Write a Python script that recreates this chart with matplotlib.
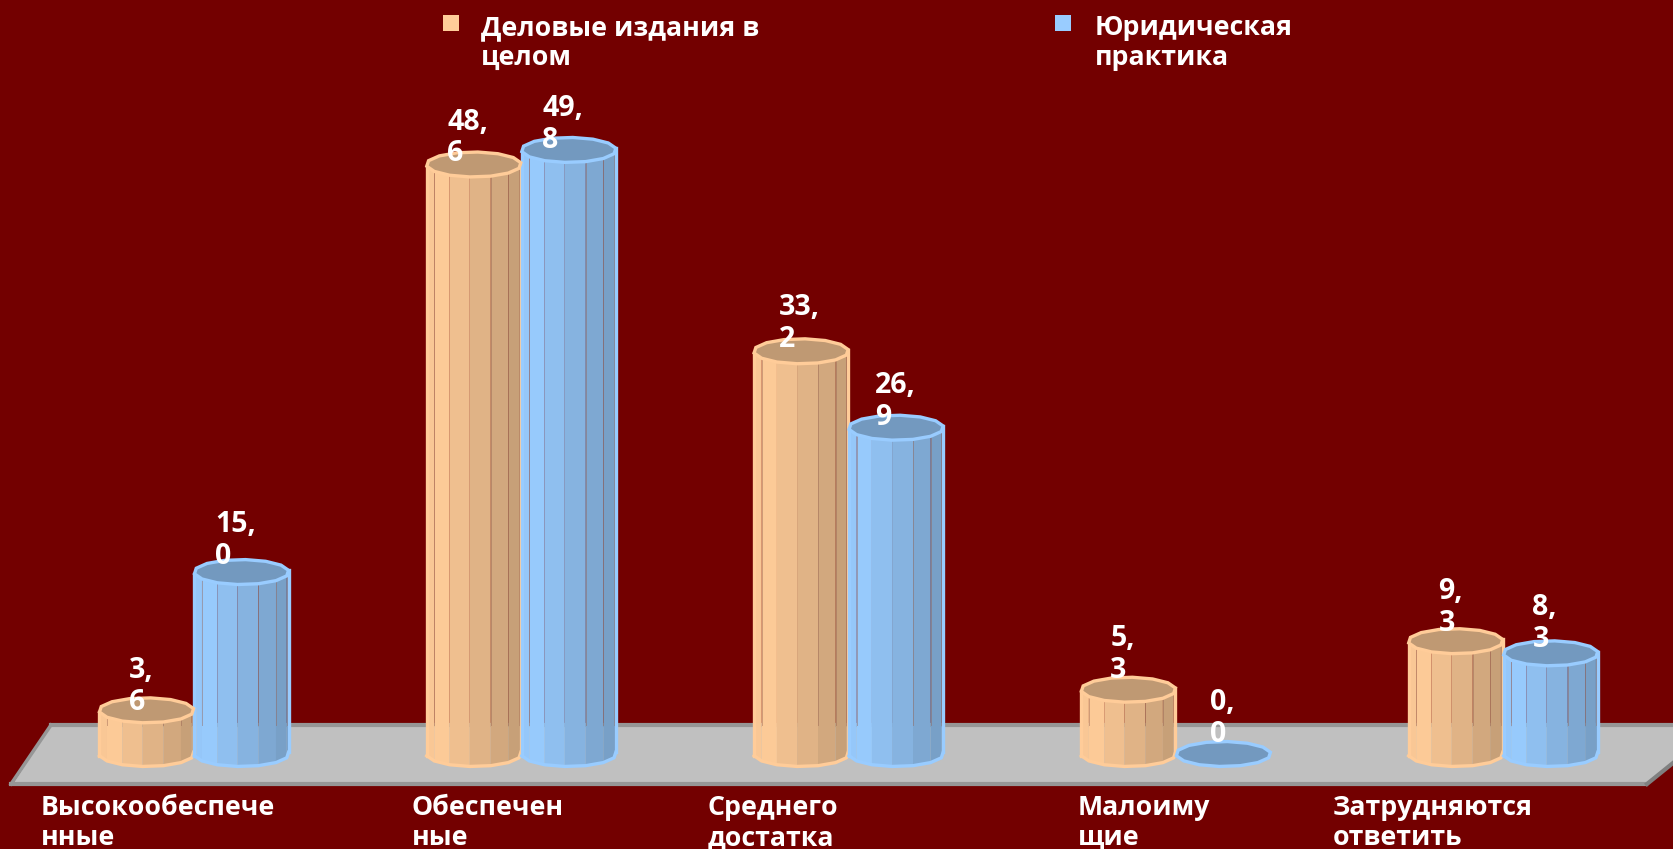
import numpy as np
import matplotlib
matplotlib.use("Agg")
import matplotlib.pyplot as plt
from matplotlib.patches import Polygon
from matplotlib import font_manager as fm

categories = ["Высокообеспече\nнные", "Обеспечен\nные", "Среднего\nдостатка", "Малоиму\nщие", "Затрудняются\nответить"]
delovye = [3.6, 48.6, 33.2, 5.3, 9.3]
yurid = [15.0, 49.8, 26.9, 0.0, 8.3]
delovye_lbl = ["3,\n6", "48,\n6", "33,\n2", "5,\n3", "9,\n3"]
yurid_lbl = ["15,\n0", "49,\n8", "26,\n9", "0,\n0", "8,\n3"]

# layout of the texts, in pixels
label_px = [41, 412, 708, 1078, 1333]
delovye_nudge = [(-5, 0), (-6, 3), (-2, 4), (-6, 12), (-5, 10)]
yurid_nudge = [(-6, 8), (-6, 2), (-1, 3), (-1, 12), (-6, 6)]

BG = "#730000"
ORANGE = np.array([255, 204, 153]) / 255
BLUE = np.array([153, 204, 255]) / 255
W, H = 1674, 849
BASE_Y = 754      # pixel row of value 0
PX_UNIT = 12.13   # pixels per percent
GROUP_PX = 327.3
FIRST_PX = 194
R = 47.5 / GROUP_PX
RY = 12.5 / PX_UNIT
FLOOR_V = (BASE_Y - 725) / PX_UNIT
FS = 19.3
FS_VAL = 20.5

# which families really have a bold face here
bold_fams = sorted({f.name for f in fm.fontManager.ttflist if f.weight in (700, "bold")})
FAMILY = "DejaVu Sans"
for name in ["Open Sans", "Noto Sans", "Lato", "Roboto", "Liberation Sans"]:
    if name in bold_fams:
        FAMILY = name
        break

plt.rcParams["font.family"] = [FAMILY, "DejaVu Sans"]
plt.rcParams["font.weight"] = "bold"
fig = plt.figure(figsize=(W / 100, H / 100), dpi=100, facecolor=BG)

# pixel axes for the floor, legend and category text
bg = fig.add_axes([0, 0, 1, 1], zorder=1)
bg.set_xlim(0, W)
bg.set_ylim(H, 0)
bg.axis("off")
bg.add_patch(Polygon([(12, 785), (51, 725), (1720, 725), (1646, 785)], fc="#C0C0C0", ec="none"))
bg.plot([51, 1720], [725, 725], color="#969696", lw=3)
bg.plot([11, 1646], [784, 784], color="#969696", lw=3)
bg.plot([11, 51], [784, 725], color="#969696", lw=2.5)
bg.plot([1647, 1720], [784, 725], color="#808080", lw=3)

for name, px in zip(categories, label_px):
    bg.text(px, 845, name, color="white", fontsize=FS, ha="left", va="baseline", linespacing=1.2)

bg.add_patch(Polygon([(443, 15), (459, 15), (459, 31), (443, 31)], fc=ORANGE, ec="none"))
bg.add_patch(Polygon([(1055, 15), (1071, 15), (1071, 31), (1055, 31)], fc=BLUE, ec="none"))
bg.text(481, 65, "Деловые издания в\nцелом", color="white", fontsize=FS, va="baseline", linespacing=1.2)
bg.text(1095, 65, "Юридическая\nпрактика", color="white", fontsize=FS, va="baseline", linespacing=1.2)

# value axes for the cylinders
ax = fig.add_axes([0, 0, 1, 1], zorder=2)
ax.patch.set_alpha(0)
ax.set_xlim(-FIRST_PX / GROUP_PX, (W - FIRST_PX) / GROUP_PX)
ax.set_ylim(-(H - BASE_Y) / PX_UNIT, BASE_Y / PX_UNIT)
ax.axis("off")


def cylinder(cx, v, col):
    ang = np.radians(np.arange(15) * 360 / 14 + 8)
    xs = cx + R * np.cos(ang)
    ys = RY * np.sin(ang)
    if v > 0:
        for i in range(14):
            if np.sin((ang[i] + ang[i + 1]) / 2) >= 0:
                continue
            f = ((xs[i] + xs[i + 1]) / 2 - (cx - R)) / (2 * R)
            shade = np.interp(f, [0, 0.12, 1], [0.96, 1.0, 0.76])
            ax.add_patch(Polygon([(xs[i], ys[i]), (xs[i + 1], ys[i + 1]),
                                  (xs[i + 1], ys[i + 1] + v), (xs[i], ys[i] + v)],
                                 fc=col * shade, ec="none", zorder=3))
            # thin facet seams near both sides, visible above the floor
            if (f < 0.2 or f > 0.7) and v > FLOOR_V:
                ax.plot([xs[i], xs[i]], [FLOOR_V, ys[i] + v], color="#96604f", lw=0.7, alpha=0.45, zorder=3.5)
        # outline of body
        left, right = np.argmin(xs[:14]), np.argmax(xs[:14])
        ax.plot([xs[left], xs[left]], [ys[left], ys[left] + v], color=col, lw=2.4, zorder=4)
        ax.plot([xs[right], xs[right]], [ys[right], ys[right] + v], color=col, lw=2.4, zorder=4)
        front = np.sin(ang) <= 0.25
        order = np.argsort(xs[front])
        ax.plot(xs[front][order], ys[front][order], color=col, lw=2.4, zorder=4)
    ax.add_patch(Polygon(np.column_stack([xs[:14], ys[:14] + v]), fc=col * 0.75, ec=col, lw=2.4, zorder=5))


for i in range(len(categories)):
    cylinder(i - R, delovye[i], ORANGE)
    ax.annotate(delovye_lbl[i], (i - R, delovye[i]), xytext=delovye_nudge[i], textcoords="offset pixels",
                color="white", fontsize=FS_VAL, ha="center", va="baseline", multialignment="left",
                linespacing=1.13, zorder=8)
for i in range(len(categories)):
    cylinder(i + R, yurid[i], BLUE)
    ax.annotate(yurid_lbl[i], (i + R, yurid[i]), xytext=yurid_nudge[i], textcoords="offset pixels",
                color="white", fontsize=FS_VAL, ha="center", va="baseline", multialignment="left",
                linespacing=1.13, zorder=8)

fig.savefig("out.png", dpi=100, facecolor=BG)
